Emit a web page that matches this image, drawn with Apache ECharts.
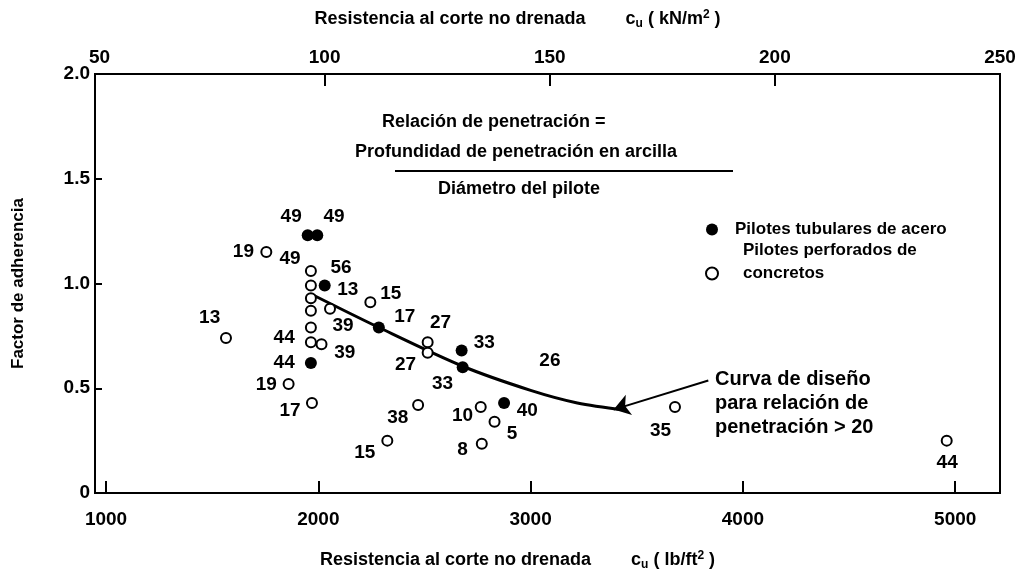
<!DOCTYPE html>
<html>
<head>
<meta charset="utf-8">
<script src="https://cdn.jsdelivr.net/npm/echarts@6/dist/echarts.min.js"></script>
<style>
  html, body { margin: 0; padding: 0; background: #fff; }
  #chart { width: 1017px; height: 575px; }
</style>
</head>
<body>
<div id="chart"></div>
<script>
// Pilotes tubulares de acero (puntos llenos): [cu lb/ft2, factor]
var steelPiles = [
    [1950, 1.23], [1995, 1.23], [2030, 0.99], [2285, 0.79],
    [2675, 0.68], [2680, 0.60], [2875, 0.43], [1965, 0.62]
];
// Pilotes perforados de concreto (circulos abiertos)
var boredPiles = [
    [1565, 0.74], [1755, 1.15], [1965, 1.06], [1965, 0.99], [1965, 0.93],
    [1965, 0.87], [1965, 0.79], [1965, 0.72], [2015, 0.71], [2055, 0.88],
    [1860, 0.52], [1970, 0.43], [2245, 0.91], [2515, 0.72], [2515, 0.67],
    [2470, 0.42], [2325, 0.25], [2765, 0.41], [2830, 0.34], [2770, 0.235],
    [3680, 0.41], [4960, 0.25]
];
// Curva de diseño
var designCurve = [
    [1975, 0.945], [2285, 0.79], [2680, 0.605],
    [3000, 0.49], [3220, 0.43], [3440, 0.397]
];
// flecha: desde el texto hasta el final de la curva
var arrowLine = [[3837, 0.537], [3391, 0.398]];
// relacion de penetracion escrita junto a cada punto
var ratioLabels = [
    [1872, 1.32, '49'], [2074, 1.32, '49'], [1647, 1.15, '19'], [1867, 1.117, '49'],
    [2107, 1.074, '56'], [2139, 0.969, '13'], [2341, 0.95, '15'], [2407, 0.839, '17'],
    [2116, 0.796, '39'], [2125, 0.667, '39'], [1839, 0.743, '44'], [1839, 0.623, '44'],
    [1755, 0.518, '19'], [1867, 0.393, '17'], [1488, 0.835, '13'], [2576, 0.811, '27'],
    [2411, 0.614, '27'], [2782, 0.719, '33'], [2585, 0.523, '33'], [3091, 0.633, '26'],
    [2374, 0.36, '38'], [2219, 0.192, '15'], [2679, 0.369, '10'], [2984, 0.393, '40'],
    [2913, 0.283, '5'], [2679, 0.206, '8'], [3612, 0.297, '35'], [4962, 0.144, '44']
];
var bottomTicks = [1000, 2000, 3000, 4000, 5000];
var topTicks = [50, 100, 150, 200, 250];

var FONT = 'Liberation Sans, Arial, sans-serif';

function titleRich() {
    return {
        a: { fontFamily: FONT, fontSize: 18, fontWeight: 'bold', color: '#000' },
        s: { fontFamily: FONT, fontSize: 12, fontWeight: 'bold', color: '#000', padding: [9, 0, 0, 0] },
        p: { fontFamily: FONT, fontSize: 12, fontWeight: 'bold', color: '#000', padding: [0, 0, 9, 0] }
    };
}

function makeOption() {
    var option = {
        backgroundColor: '#fff',
        textStyle: { fontFamily: FONT, color: '#000' },
        grid: {
            left: 95, right: 17, top: 74, bottom: 82,
            outerBoundsMode: 'none',
            show: true, borderColor: '#000', borderWidth: 2
        },
        legend: {
            orient: 'vertical',
            left: 700, top: 213,
            itemGap: -2,
            itemWidth: 12, itemHeight: 12,
            data: [{
                name: 'Pilotes tubulares de acero',
                textStyle: { padding: [0, 0, 0, 12] }
            }, {
                name: 'Pilotes perforados de concretos',
                textStyle: { padding: [0, 0, 0, 20] }
            }],
            formatter: function (name) {
                return name === 'Pilotes perforados de concretos'
                    ? 'Pilotes perforados de\nconcretos\n ' : name;
            },
            textStyle: {
                fontFamily: FONT, fontSize: 17, fontWeight: 'bold', color: '#000',
                lineHeight: 23
            }
        },
        xAxis: [{
            type: 'value',
            position: 'bottom',
            min: 948, max: 5211,
            name: '{a|Resistencia al corte no drenada        c}{s|u}{a| ( lb/ft}{p|2}{a| )}',
            nameLocation: 'middle',
            nameGap: 57,
            nameTextStyle: { padding: [0, 60, 0, 0], rich: titleRich() },
            axisLine: { lineStyle: { color: '#000', width: 2 } },
            axisTick: { inside: true, length: 12, customValues: bottomTicks, lineStyle: { color: '#000', width: 2 } },
            axisLabel: {
                customValues: bottomTicks, margin: 17,
                fontFamily: FONT, fontSize: 19, fontWeight: 'bold', color: '#000',
                formatter: function (v) { return String(v); }
            },
            splitLine: { show: false }
        }, {
            type: 'value',
            position: 'top',
            min: 49, max: 250,
            name: '{a|Resistencia al corte no drenada        c}{s|u}{a| ( kN/m}{p|2}{a| )}',
            nameLocation: 'middle',
            nameGap: 44,
            nameTextStyle: { padding: [0, 60, 0, 0], rich: titleRich() },
            axisLine: { lineStyle: { color: '#000', width: 2 } },
            axisTick: { inside: true, length: 12, customValues: [100, 150, 200], lineStyle: { color: '#000', width: 2 } },
            axisLabel: {
                customValues: topTicks, margin: 7,
                fontFamily: FONT, fontSize: 19, fontWeight: 'bold', color: '#000',
                formatter: function (v) { return String(v); }
            },
            splitLine: { show: false }
        }],
        yAxis: {
            type: 'value',
            min: 0, max: 2, interval: 0.5,
            name: 'Factor de adherencia',
            nameLocation: 'middle',
            nameGap: 68,
            nameTextStyle: { fontFamily: FONT, fontSize: 17, fontWeight: 'bold', color: '#000' },
            axisLine: { show: true, lineStyle: { color: '#000', width: 2 } },
            axisTick: { show: true, inside: true, length: 7, lineStyle: { color: '#000', width: 2 } },
            axisLabel: {
                margin: 5,
                fontFamily: FONT, fontSize: 19, fontWeight: 'bold', color: '#000',
                formatter: function (v) { return v === 0 ? '0' : v.toFixed(1); }
            },
            splitLine: { show: false }
        },
        series: [{
            name: 'Curva de diseño',
            type: 'line',
            smooth: 0.3,
            showSymbol: false,
            silent: true,
            lineStyle: { color: '#000', width: 3 },
            data: designCurve,
            markLine: {
                silent: true,
                symbol: ['none', 'arrow'],
                symbolSize: 16,
                label: { show: false },
                lineStyle: { color: '#000', width: 2, type: 'solid' },
                data: [[{ coord: arrowLine[0] }, { coord: arrowLine[1] }]]
            },
            z: 2
        }, {
            name: 'Pilotes tubulares de acero',
            type: 'scatter',
            symbol: 'circle',
            symbolSize: 12,
            itemStyle: { color: '#000', opacity: 1 },
            data: steelPiles,
            z: 4
        }, {
            name: 'Pilotes perforados de concretos',
            type: 'scatter',
            symbol: 'circle',
            symbolSize: 10,
            itemStyle: { color: '#fff', borderColor: '#000', borderWidth: 2, opacity: 1 },
            data: boredPiles,
            z: 4
        }, {
            name: 'ratio',
            type: 'scatter',
            symbolSize: 0,
            silent: true,
            itemStyle: { opacity: 1 },
            data: ratioLabels,
            label: {
                show: true,
                position: 'inside',
                formatter: function (p) { return p.data[2]; },
                fontFamily: FONT, fontSize: 19, fontWeight: 'bold', color: '#000'
            },
            z: 5
        }],
        graphic: [{
            type: 'text', left: 382, top: 113,
            style: { text: 'Relación de penetración =', font: 'bold 18px ' + FONT, fill: '#000' }
        }, {
            type: 'text', left: 355, top: 143,
            style: { text: 'Profundidad de penetración en arcilla', font: 'bold 18px ' + FONT, fill: '#000' }
        }, {
            type: 'line',
            shape: { x1: 395, y1: 171, x2: 733, y2: 171 },
            style: { stroke: '#000', lineWidth: 2 }
        }, {
            type: 'text', left: 438, top: 180,
            style: { text: 'Diámetro del pilote', font: 'bold 18px ' + FONT, fill: '#000' }
        }, {
            type: 'text', left: 715, top: 367,
            style: {
                text: 'Curva de diseño\npara relación de\npenetración > 20',
                font: 'bold 20px ' + FONT, fill: '#000', lineHeight: 24
            }
        }]
    };
    return option;
}

function setChart(id, option) {
    var myChart = echarts.init(document.getElementById(id));
    myChart.setOption(option);
}

setChart('chart', makeOption());
</script>
</body>
</html>
